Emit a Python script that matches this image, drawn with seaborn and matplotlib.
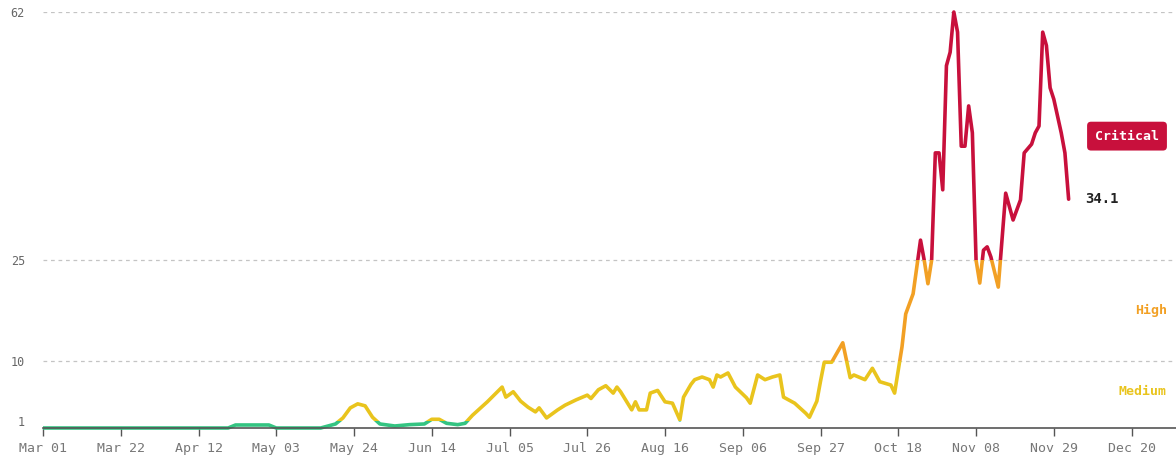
import matplotlib
matplotlib.use("Agg")
import matplotlib.pyplot as plt
import matplotlib.dates as mdates
import matplotlib.transforms as mtrans
from matplotlib.patches import Rectangle
import pandas as pd
import seaborn as sns

# ---------------------------------------------------------------------
# Data
# ---------------------------------------------------------------------
dates = [
    "2021-03-01", "2021-04-20", "2021-04-22", "2021-05-01", "2021-05-03",
    "2021-05-15", "2021-05-19", "2021-05-21", "2021-05-23", "2021-05-25",
    "2021-05-27", "2021-05-29", "2021-05-31", "2021-06-04", "2021-06-08",
    "2021-06-12", "2021-06-14", "2021-06-16", "2021-06-18", "2021-06-21",
    "2021-06-23", "2021-06-25", "2021-06-29", "2021-07-01", "2021-07-03",
    "2021-07-04", "2021-07-06", "2021-07-08", "2021-07-10", "2021-07-12",
    "2021-07-13", "2021-07-15", "2021-07-18", "2021-07-20", "2021-07-23",
    "2021-07-26", "2021-07-27", "2021-07-29", "2021-07-31", "2021-08-02",
    "2021-08-03", "2021-08-04", "2021-08-07", "2021-08-08", "2021-08-09",
    "2021-08-11", "2021-08-12", "2021-08-14", "2021-08-16", "2021-08-18",
    "2021-08-20", "2021-08-21", "2021-08-23", "2021-08-24", "2021-08-26",
    "2021-08-28", "2021-08-29", "2021-08-30", "2021-08-31", "2021-09-02",
    "2021-09-04", "2021-09-07", "2021-09-08", "2021-09-10", "2021-09-12",
    "2021-09-14", "2021-09-16", "2021-09-17", "2021-09-20", "2021-09-23",
    "2021-09-24", "2021-09-26", "2021-09-27", "2021-09-28", "2021-09-30",
    "2021-10-03", "2021-10-05", "2021-10-06", "2021-10-09", "2021-10-11",
    "2021-10-13", "2021-10-16", "2021-10-17", "2021-10-19", "2021-10-20",
    "2021-10-22", "2021-10-23", "2021-10-24", "2021-10-25", "2021-10-26",
    "2021-10-27", "2021-10-28", "2021-10-29", "2021-10-30", "2021-10-31",
    "2021-11-01", "2021-11-02", "2021-11-03", "2021-11-04", "2021-11-05",
    "2021-11-06", "2021-11-07", "2021-11-08", "2021-11-09", "2021-11-10",
    "2021-11-11", "2021-11-12", "2021-11-14", "2021-11-16", "2021-11-17",
    "2021-11-18", "2021-11-20", "2021-11-21", "2021-11-23", "2021-11-24",
    "2021-11-25", "2021-11-26", "2021-11-27", "2021-11-28", "2021-11-29",
    "2021-12-01", "2021-12-02", "2021-12-03",
]
values = [
    0, 0, 0.45, 0.45, 0,
    0, 0.6, 1.5, 3.0, 3.6,
    3.3, 1.6, 0.6, 0.3, 0.5,
    0.6, 1.3, 1.3, 0.7, 0.5,
    0.7, 1.9, 3.9, 5.0, 6.1,
    4.6, 5.4, 4.0, 3.1, 2.4,
    3.0, 1.5, 2.7, 3.4, 4.2,
    4.9, 4.4, 5.7, 6.3, 5.2,
    6.1, 5.4, 2.7, 3.9, 2.7,
    2.7, 5.2, 5.6, 3.9, 3.7,
    1.2, 4.6, 6.5, 7.2, 7.6,
    7.2, 6.1, 7.9, 7.6, 8.2,
    6.1, 4.5, 3.7, 7.9, 7.2,
    7.6, 7.9, 4.6, 3.7, 2.2,
    1.6, 4.0, 7.0, 9.8, 9.8,
    12.7, 7.5, 7.9, 7.2, 8.9,
    6.9, 6.4, 5.2, 12.1, 17.0,
    20.0, 24.0, 28.0, 25.0, 21.5,
    25.0, 41.0, 41.0, 35.5, 54.0,
    56.0, 62.0, 59.0, 42.0, 42.0,
    48.0, 44.0, 25.0, 21.6, 26.5,
    27.0, 25.5, 21.0, 35.0, 33.0,
    31.0, 34.0, 41.0, 42.3, 44.0,
    45.0, 59.0, 57.0, 50.7, 49.0,
    44.0, 41.0, 34.1,
]

# risk levels: lower / upper bound of each band
level_names = ["Low", "Medium", "High", "Critical"]
level_lo = [-5, 1, 10, 25]
level_hi = [1, 10, 25, 63]
level_colors = ["#34c482", "#e9c41d", "#f2a024", "#c8103c"]
y_ticks = [1, 10, 25, 62]
grid_levels = [10, 25, 62]

df = pd.DataFrame({"date": pd.to_datetime(dates), "value": values})

sns.set_theme(style="white")
plt.rcParams["font.family"] = ["DejaVu Sans Mono"]

fig = plt.figure(figsize=(11.76, 4.61), dpi=100)
ax = fig.add_axes([43 / 1176, 33 / 461, 1133 / 1176, 416 / 461])
blend = mtrans.blended_transform_factory(ax.transAxes, ax.transData)

# dashed threshold lines
for g in grid_levels:
    ax.axhline(g, color="#c4c4c4", linewidth=0.9, linestyle=(0, (3, 3)), zorder=0)

# one coloured copy of the line per band, clipped to that band
for lo, hi, col in zip(level_lo, level_hi, level_colors):
    sns.lineplot(data=df, x="date", y="value", ax=ax, color=col,
                 linewidth=2.6, solid_joinstyle="round", solid_capstyle="round")
    clip = Rectangle((0, lo), 1, hi - lo, transform=blend)
    ax.lines[-1].set_clip_path(clip)

ax.set_xlim(pd.Timestamp("2021-03-01"), pd.Timestamp("2022-01-01"))
ax.set_ylim(0, 62)
ax.set_xlabel("")
ax.set_ylabel("")

ax.set_xticks(pd.date_range("2021-03-01", periods=15, freq="21D"))
ax.xaxis.set_major_formatter(mdates.DateFormatter("%b %d"))
ax.set_yticks(y_ticks)
ax.set_yticklabels([str(t) for t in y_ticks])

ax.tick_params(axis="x", length=6, width=1, color="#555555", direction="out",
               labelsize=9.5, labelcolor="#777777", pad=4, bottom=True)
ax.tick_params(axis="y", length=0, labelsize=8.5, labelcolor="#666666", pad=13)

sns.despine(ax=ax, left=True, top=True, right=True)
ax.spines["bottom"].set_color("#555555")
ax.spines["bottom"].set_linewidth(1.2)

# band labels on the right
last_val = values[-1]
for name, lo, hi, col in zip(level_names, level_lo, level_hi, level_colors):
    if name == "Low":
        continue
    mid = (max(lo, 0) + min(hi, 62)) / 2
    if lo <= last_val < hi:
        ax.text(0.985, mid, name, transform=blend, ha="right", va="center",
                color="white", fontsize=9.5, fontweight="bold",
                bbox=dict(boxstyle="round,pad=0.6,rounding_size=0.3", fc=col, ec="none"))
    else:
        ax.text(0.992, mid, name, transform=blend, ha="right", va="center",
                color=col, fontsize=9.5, fontweight="bold")

# current value label
ax.annotate(f"{last_val:.1f}", xy=(df["date"].iloc[-1], last_val),
            xytext=(12, 0), textcoords="offset points", ha="left", va="center",
            fontsize=10, fontweight="bold", color="#222222")

fig.savefig("out.png", dpi=100)
